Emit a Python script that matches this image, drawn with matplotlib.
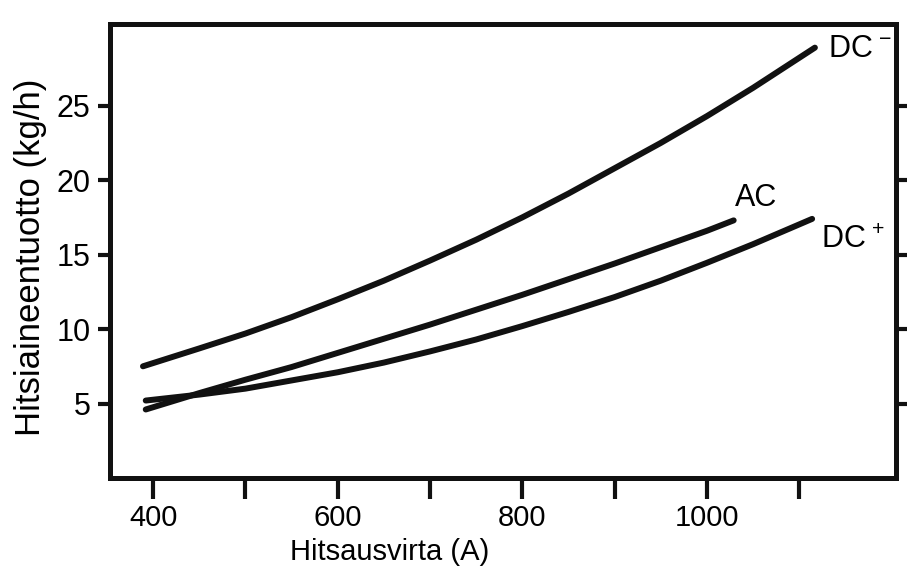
import numpy as np
import matplotlib
matplotlib.use("Agg")
import matplotlib.pyplot as plt

plt.rcParams['font.family'] = ['Liberation Sans', 'DejaVu Sans']
plt.rcParams['mathtext.fontset'] = 'custom'
plt.rcParams['mathtext.rm'] = 'Liberation Sans'
plt.rcParams['mathtext.it'] = 'Liberation Sans:italic'

# luettu kuvasta: hitsausvirta (A) ja hitsiaineentuotto (kg/h)
dc_neg_x = [389, 450, 500, 550, 600, 650, 700, 750, 800, 850, 900, 950, 1000, 1050, 1117]
dc_neg_y = [7.5, 8.7, 9.7, 10.8, 12.0, 13.25, 14.6, 16.0, 17.5, 19.1, 20.8, 22.5, 24.3, 26.2, 28.9]

ac_x = [392, 450, 500, 550, 600, 650, 700, 750, 800, 850, 900, 950, 1000, 1029]
ac_y = [4.6, 5.7, 6.6, 7.45, 8.4, 9.35, 10.3, 11.3, 12.3, 13.35, 14.4, 15.5, 16.6, 17.3]

dc_pos_x = [392, 450, 500, 550, 600, 650, 700, 750, 800, 850, 900, 950, 1000, 1050, 1114]
dc_pos_y = [5.2, 5.6, 6.0, 6.55, 7.1, 7.75, 8.5, 9.3, 10.2, 11.15, 12.15, 13.25, 14.45, 15.7, 17.4]

x_ticks = [400, 500, 600, 700, 800, 900, 1000, 1100]
x_ticklabels = ['400', '', '600', '', '800', '', '1000', '']
y_ticks = [5, 10, 15, 20, 25]

fig = plt.figure(figsize=(9.07, 5.67), dpi=100)
ax = fig.add_axes([0.121, 0.157, 0.867, 0.801])

lw = 4.3
for xs, ys in [(dc_neg_x, dc_neg_y), (ac_x, ac_y), (dc_pos_x, dc_pos_y)]:
    ax.plot(xs, ys, color='#111111', lw=lw, solid_capstyle='round',
            solid_joinstyle='round')

ax.set_xlim(353, 1205)
ax.set_ylim(0, 30.5)

ax.set_xticks(x_ticks)
ax.set_xticklabels(x_ticklabels)
ax.set_yticks(y_ticks)
ax.tick_params(axis='x', direction='out', length=15, width=3, pad=4,
               labelsize=21, color='#111111')
ax.tick_params(axis='y', direction='out', length=9, width=3, pad=5,
               labelsize=22, right=True, color='#111111')
for s in ax.spines.values():
    s.set_linewidth(3.6)
    s.set_color('#111111')

ax.set_xlabel('Hitsausvirta (A)', fontsize=21, labelpad=0)
ax.xaxis.set_label_coords(0.356, -0.132)
ax.set_ylabel('Hitsiaineentuotto (kg/h)', fontsize=25)
ax.yaxis.set_label_coords(-0.08, 0.485)

ax.text(1131, 28.8, 'DC$^{\\,-}$', fontsize=22, va='center', ha='left')
ax.text(1030, 18.8, 'AC', fontsize=22, va='center', ha='left')
ax.text(1124, 16.0, 'DC$^{\\,+}$', fontsize=22, va='center', ha='left')

fig.savefig('out.png', dpi=100)
